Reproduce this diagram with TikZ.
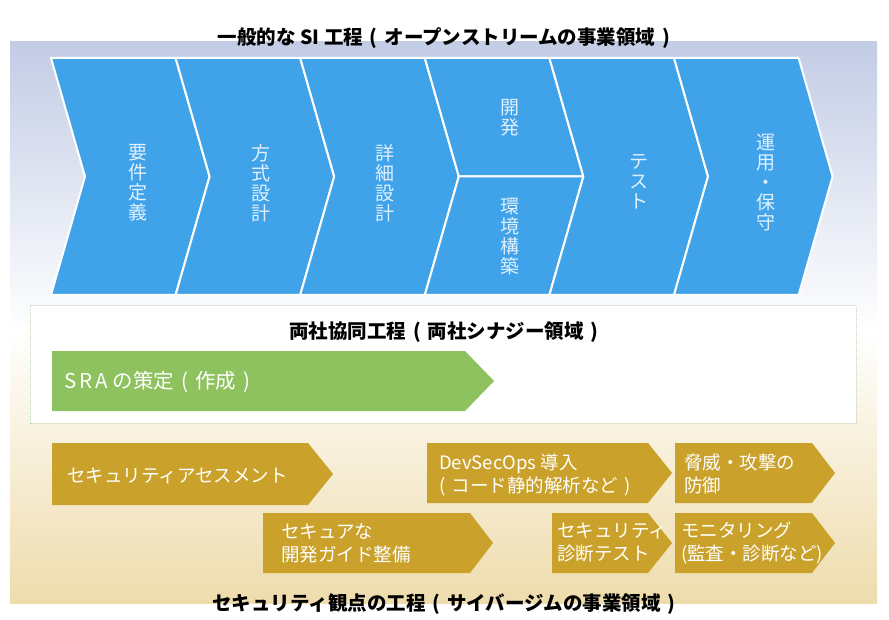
\documentclass[tikz,border=0pt]{standalone}
\usepackage{fontspec}
\setmainfont{Noto Sans CJK JP}
\newcommand{\po}{\hspace{.35em}(\hspace{.35em}}
\newcommand{\pf}{\hspace{.35em})}

\definecolor{bleu}{RGB}{64,163,234}
\definecolor{bleutxt}{RGB}{224,240,252}
\definecolor{vert}{RGB}{141,194,94}
\definecolor{ocre}{RGB}{201,161,43}
\definecolor{fondhaut}{RGB}{194,204,229}
\definecolor{fondbas}{RGB}{238,220,172}
\definecolor{pointille}{RGB}{188,214,180}

\begin{document}
\begin{tikzpicture}[x=1pt,y=-1pt]
 % style des formes
  \tikzstyle{etape}=[fill=bleu,draw=white,line width=2pt,line join=round]
  \tikzstyle{secu}=[fill=ocre]
 % style des textes
  \tikzstyle{etiq}=[text=bleutxt,align=center,inner sep=0pt,font=\fontsize{19}{20}\selectfont]
  \tikzstyle{titre}=[inner sep=0pt,font=\bfseries\fontsize{19.5}{22}\selectfont]
  \tikzstyle{secutxt}=[text=white,anchor=west,align=left,inner sep=0pt,font=\fontsize{18.5}{23}\selectfont]
  \useasboundingbox (0,0) rectangle (889,620);
 % fond
  \shade[top color=fondhaut,bottom color=white] (10,42) rectangle (877,330);
  \shade[top color=white,bottom color=fondbas] (10,330) rectangle (877,603);
 % processus SI
  \filldraw[etape] (51,58) -- ++(124.6,0) -- ++(34,118.5) -- ++(-34,118.5) -- ++(-124.6,0) -- ++(34,-118.5) -- cycle;
  \filldraw[etape] (175.6,58) -- ++(124.6,0) -- ++(34,118.5) -- ++(-34,118.5) -- ++(-124.6,0) -- ++(34,-118.5) -- cycle;
  \filldraw[etape] (300.2,58) -- ++(124.6,0) -- ++(34,118.5) -- ++(-34,118.5) -- ++(-124.6,0) -- ++(34,-118.5) -- cycle;
  \filldraw[etape] (424.8,58) -- ++(124.6,0) -- ++(34,118.5) -- ++(-124.6,0) -- cycle;
  \filldraw[etape] (458.8,176.5) -- ++(124.6,0) -- ++(-34,118.5) -- ++(-124.6,0) -- cycle;
  \filldraw[etape] (549.4,58) -- ++(124.6,0) -- ++(34,118.5) -- ++(-34,118.5) -- ++(-124.6,0) -- ++(34,-118.5) -- cycle;
  \filldraw[etape] (674,58) -- ++(124.6,0) -- ++(34,118.5) -- ++(-34,118.5) -- ++(-124.6,0) -- ++(34,-118.5) -- cycle;
  \node[etiq] (exigences) at (138,183) {要\\件\\定\\義};
  \node[etiq] (architecture) at (261,183) {方\\式\\設\\計};
  \node[etiq] (conception) at (385,183) {詳\\細\\設\\計};
  \node[etiq] (dev) at (510,118) {開\\発};
  \node[etiq] (env) at (510,237) {環\\境\\構\\築};
  \node[etiq] (test) at (639,182) {テ\\ス\\ト};
  \node[etiq] (exploit) at (766,183) {運\\用\\・\\保\\守};
  \node[titre] (titresi) at (444,38) {一般的な SI 工程\po オープンストリームの事業領域\pf};
 % processus commun
  \draw[draw=pointille,densely dotted,line width=1pt,fill=white] (30,306) rectangle (856,423);
  \node[titre] (titrecommun) at (444,332) {両社協同工程\po 両社シナジー領域\pf};
  \fill[vert] (52,351) -- (465,351) -- (494,381) -- (465,411) -- (52,411) -- cycle;
  \node[secutxt,font=\fontsize{20.5}{22}\selectfont] (sra) at (64,382) {{\addfontfeature{LetterSpace=15}SRA} の策定\po 作成\pf};
 % processus securite
  \fill[secu] (52,443) -- (308,443) -- (333,474) -- (308,505) -- (52,505) -- cycle;
  \fill[secu] (263,513) -- (470,513) -- (493,543) -- (470,573) -- (263,573) -- cycle;
  \fill[secu] (427,443) -- (648,443) -- (672,473) -- (648,503) -- (427,503) -- cycle;
  \fill[secu] (675,443) -- (812,443) -- (835,473) -- (812,503) -- (675,503) -- cycle;
  \fill[secu] (552,513) -- (648,513) -- (672,543) -- (648,573) -- (552,573) -- cycle;
  \fill[secu] (675,513) -- (812,513) -- (835,543) -- (812,573) -- (675,573) -- cycle;
  \node[secutxt] (evaluation) at (67,476) {セキュリティアセスメント};
  \node[secutxt] (guide) at (281,543) {セキュアな\\開発ガイド整備};
  \node[secutxt] (devsecops) at (439,475) {DevSecOps 導入\\(\hspace{.35em}コード静的解析など\pf};
  \node[secutxt] (defense) at (684,474) {脅威・攻撃の\\防御};
  \node[secutxt] (diagnostic) at (557,543) {セキュリティ\\診断テスト};
  \node[secutxt] (surveillance) at (681,543) {モニタリング\\(監査・診断など)};
  \node[titre] (titresecu) at (444,604) {セキュリティ観点の工程\po サイバージムの事業領域\pf};
\end{tikzpicture}
\end{document}
